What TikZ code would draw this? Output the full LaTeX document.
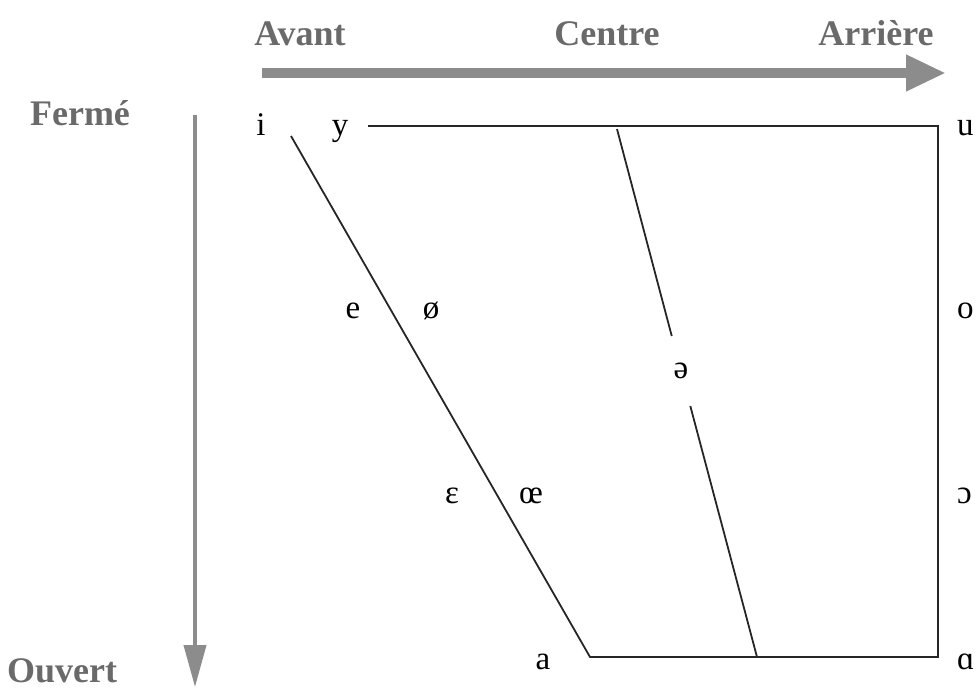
\documentclass[tikz,border=0pt]{standalone}
\usepackage{fontspec}
\setmainfont{Liberation Serif}
\usetikzlibrary{arrows.meta}

\definecolor{axisgray}{HTML}{8C8C8C}
\definecolor{labelgray}{HTML}{6A6A6A}

\tikzset{
    axislabel/.style={font=\fontsize{36}{40}\selectfont\bfseries, text=labelgray, inner sep=0pt, anchor=base},
    vowel/.style={font=\fontsize{33}{38}\selectfont, inner sep=0pt, anchor=base},
    trapeze/.style={line width=1.8pt, black!85},
    axisarrow/.style={draw=axisgray}
}

\begin{document}
\begin{tikzpicture}[x=1pt, y=-1pt]
        \useasboundingbox (0,0) rectangle (979,688);

        % Axis titles
        \node[axislabel] (avant) at (300,45) {Avant};
        \node[axislabel] (centre) at (607,45) {Centre};
        \node[axislabel] (arriere) at (876,45) {Arrière};
        \node[axislabel] (ferme) at (80,125) {Fermé};
        \node[axislabel] (ouvert) at (62,682) {Ouvert};

        % Horizontal arrow (avant -> arriere)
        \coordinate (hstart) at (262,73);
        \coordinate (hend) at (946,73);
        \draw[axisarrow, line width=10pt, -{Triangle[length=40pt, width=34pt]}] (hstart) -- (hend);

        % Vertical arrow (ferme -> ouvert)
        \coordinate (vstart) at (195,115);
        \coordinate (vend) at (195,687);
        \draw[axisarrow, line width=4pt, -{Triangle[length=42pt, width=22pt]}] (vstart) -- (vend);

        % Corners of the trapeze
        \coordinate (itop) at (291,136);
        \coordinate (abot) at (590,657);
        \coordinate (yend) at (368,126);
        \coordinate (ucorner) at (938,126);
        \coordinate (acorner) at (938,657);
        \coordinate (ctop) at (617,129);
        \coordinate (cbot) at (757,657);

        % Front vowels
        \node[vowel] (vi) at (261,135) {i};
        \node[vowel] (vy) at (340,135) {y};
        \node[vowel] (ve) at (353,318) {e};
        \node[vowel] (vslash) at (431,318) {ø};
        \node[vowel] (veps) at (452,503) {ɛ};
        \node[vowel] (voe) at (531,503) {œ};
        \node[vowel] (va) at (543,669) {a};

        % Back vowels (cut by the right margin)
        \foreach \y/\name/\label in {135/vu/u, 318/vo/o, 503/vopen/ɔ, 669/vback/ɑ} {
            \node[vowel, anchor=base west] (\name) at (957,\y) {\label};
        }

        % Schwa on the central line
        \node[font=\fontsize{33}{38}\selectfont, circle, inner sep=0pt, minimum size=72pt] (vschwa) at (681,371) {ə};

        % Trapeze lines
        \draw[trapeze] (yend) -- (ucorner) -- (acorner) -- (abot) -- (itop);
        \draw[trapeze] (ctop) -- (vschwa);
        \draw[trapeze] (vschwa) -- (cbot);

    \end{tikzpicture}
\end{document}
